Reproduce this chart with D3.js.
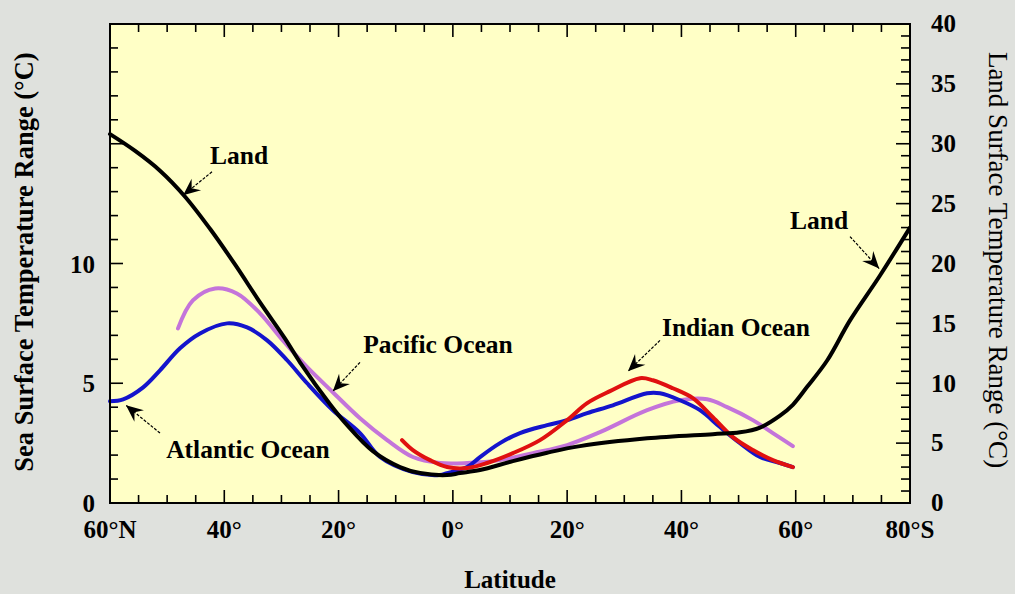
<!DOCTYPE html>
<html><head><meta charset="utf-8">
<script src="https://cdn.jsdelivr.net/npm/d3@7"></script>
<style>
html,body{margin:0;padding:0;background:#dfe1dd;}
svg{display:block;}
text{font-family:"Liberation Serif","DejaVu Serif",serif;fill:#000;}
</style></head><body>
<svg id="chart" width="1015" height="594"></svg>
<script>
// ---- Data (latitude: + = North, - = South) ----
const landLat = [60,55.6,51.25,46.9,42.5,38.1,33.75,29.4,26.75,21.5,18.5,14,9.25,5.75,1,-1.25,-4.75,-10.5,-16.5,-22.25,-34,-45.5,-50.25,-53.75,-57.25,-59.5,-62,-65.5,-69.5,-74.75,-80];
const landRange = [30.8,29.4,27.75,25.6,22.9,19.9,16.75,13.75,11.75,8.25,6.5,4.33,3.0,2.5,2.33,2.5,2.75,3.5,4.2,4.75,5.4,5.75,5.9,6.3,7.3,8.2,9.7,11.9,15.25,19.0,23.0];

const atlanticLat = [60,57.7,54.2,51.25,47.75,44.25,39.5,36,32.5,29,25.5,21,16.25,12.75,7,2.25,1,-2.5,-4.75,-8.25,-11.75,-16.5,-20,-23.5,-28,-34,-36.25,-39.75,-43.25,-46.75,-50.25,-53.75,-57.25,-59.5];
const atlanticRange = [4.25,4.33,4.83,5.54,6.46,7.08,7.5,7.33,6.79,5.96,5.0,3.875,2.92,1.92,1.29,1.17,1.25,1.5,1.92,2.5,2.92,3.25,3.46,3.75,4.08,4.58,4.58,4.29,3.875,3.17,2.5,1.92,1.67,1.5];

const pacificLat = [48.1,45.5,41.6,37.8,33.75,29.75,25.5,21,16.25,11.5,7,2.25,-2.5,-8.25,-14,-20,-25.75,-34,-39.75,-44.5,-48,-52.5,-56,-59.5];
const pacificRange = [7.29,8.46,8.96,8.75,7.92,6.79,5.67,4.625,3.54,2.625,1.92,1.67,1.67,1.79,2.08,2.42,2.96,3.875,4.29,4.33,4.0,3.46,2.92,2.375];

const indianLat = [8.9,7,4,1,-2.5,-6,-10.5,-15.25,-20,-23.5,-27.5,-32.75,-35,-38.5,-42,-45.5,-49,-52.5,-56,-59.5];
const indianRange = [2.625,2.21,1.79,1.5,1.46,1.67,2.08,2.625,3.46,4.17,4.67,5.21,5.125,4.79,4.375,3.58,2.75,2.21,1.79,1.5];

const xTickValues = [60,40,20,0,-20,-40,-60,-80];
const xTickLabels = ["60°N","40°","20°","0°","20°","40°","60°","80°S"];
const leftTickValues = [0,5,10];
const rightTickValues = [0,5,10,15,20,25,30,35,40];

// annotations: text position and arrow (lat, sea-surface-range units)
const annotations = [
  {text:"Land", tx:37.4, ty:14.17, a:[42.15,13.83], b:[47.2,12.85]},
  {text:"Land", tx:-64.1, ty:11.42, a:[-69.5,11.125], b:[-74.6,9.79]},
  {text:"Pacific Ocean", tx:2.6, ty:6.25, a:[16.25,5.875], b:[21.0,4.67]},
  {text:"Atlantic Ocean", tx:35.85, ty:1.875, a:[51.25,2.92], b:[57.2,4.08]},
  {text:"Indian Ocean", tx:-49.55, ty:6.96, a:[-36.25,6.79], b:[-30.65,5.5]}
];

// ---- Layout ----
const L=110, R=910, T=24, B=503;
const svg = d3.select("#chart");
const x = d3.scaleLinear().domain([60,-80]).range([L,R]);
const yL = d3.scaleLinear().domain([0,20]).range([B,T]);
const yR = d3.scaleLinear().domain([0,40]).range([B,T]);

svg.append("rect").attr("x",L).attr("y",T).attr("width",R-L).attr("height",B-T).attr("fill","#ffffc6");

const defs = svg.append("defs");
defs.append("marker").attr("id","ah").attr("viewBox","-18 -9 20 18")
  .attr("markerWidth",20).attr("markerHeight",18).attr("refX",0).attr("refY",0)
  .attr("markerUnits","userSpaceOnUse").attr("orient","auto")
  .append("path").attr("d","M0,0 L-17,-7.5 L-11,0 L-17,7.5 Z").attr("fill","#000");

const clip = defs.append("clipPath").attr("id","pc");
clip.append("rect").attr("x",L-3).attr("y",T).attr("width",R-L+3).attr("height",B-T);

// ---- Curves ----
const g = svg.append("g").attr("clip-path","url(#pc)");
function drawSeries(lat, vals, yScale, color, w){
  const pts = lat.map((d,i)=>[d, vals[i]]);
  const line = d3.line().x(d=>x(d[0])).y(d=>yScale(d[1])).curve(d3.curveCatmullRom.alpha(0.5));
  g.append("path").datum(pts).attr("d",line).attr("fill","none")
    .attr("stroke",color).attr("stroke-width",w).attr("stroke-linecap","round").attr("stroke-linejoin","round");
}
drawSeries(pacificLat, pacificRange, yL, "#c474da", 4);
drawSeries(atlanticLat, atlanticRange, yL, "#1414cc", 4);
drawSeries(indianLat, indianRange, yL, "#e01010", 4);
drawSeries(landLat, landRange, yR, "#000000", 4);

// ---- Axes (ticks inward) ----
const ax = svg.append("g").attr("stroke","#000").attr("stroke-width",1.6);
d3.range(60,-80.1,-5).forEach(v=>{
  const major = Math.round(v)%20===0;
  const len = major?13:8;
  if(v===60||v===-80) return;
  ax.append("line").attr("x1",x(v)).attr("x2",x(v)).attr("y1",B).attr("y2",B-len);
  ax.append("line").attr("x1",x(v)).attr("x2",x(v)).attr("y1",T).attr("y2",T+len);
});
d3.range(1,20,1).forEach(v=>{
  const len = v%5===0?13:8;
  ax.append("line").attr("x1",L).attr("x2",L+len).attr("y1",yL(v)).attr("y2",yL(v));
});
d3.range(1,40,1).forEach(v=>{
  const len = v%5===0?14:9;
  ax.append("line").attr("x1",R).attr("x2",R-len).attr("y1",yR(v)).attr("y2",yR(v));
});
svg.append("rect").attr("x",L).attr("y",T).attr("width",R-L).attr("height",B-T)
  .attr("fill","none").attr("stroke","#000").attr("stroke-width",2);

// tick labels
const lab = svg.append("g").attr("font-weight","bold").attr("font-size","25px");
xTickValues.forEach((v,i)=>{
  lab.append("text").attr("x",x(v)).attr("y",538).attr("text-anchor","middle").text(xTickLabels[i]);
});
leftTickValues.forEach(v=>{
  lab.append("text").attr("x",95).attr("y",yL(v)).attr("dy","0.36em").attr("text-anchor","end").text(v);
});
rightTickValues.forEach(v=>{
  lab.append("text").attr("x",931).attr("y",yR(v)).attr("dy","0.33em").attr("text-anchor","start").text(v);
});

// axis titles
svg.append("text").attr("transform","translate(33,262) rotate(-90)").attr("text-anchor","middle")
  .attr("font-weight","bold").attr("font-size","26.5px").text("Sea Surface Temperature Range (°C)");
svg.append("text").attr("transform","translate(989,260) rotate(90)").attr("text-anchor","middle")
  .attr("font-size","27px").text("Land Surface Temperature Range (°C)");
svg.append("text").attr("x",510).attr("y",588).attr("text-anchor","middle")
  .attr("font-weight","bold").attr("font-size","25px").text("Latitude");

// annotations
const an = svg.append("g");
annotations.forEach(a=>{
  an.append("text").attr("x",x(a.tx)).attr("y",yL(a.ty)).attr("text-anchor","middle")
    .attr("font-weight","bold").attr("font-size","25.5px").text(a.text);
  an.append("line").attr("x1",x(a.a[0])).attr("y1",yL(a.a[1])).attr("x2",x(a.b[0])).attr("y2",yL(a.b[1]))
    .attr("stroke","#000").attr("stroke-width",1.2).attr("stroke-dasharray","3,1.5").attr("marker-end","url(#ah)");
});
</script>
</body></html>
